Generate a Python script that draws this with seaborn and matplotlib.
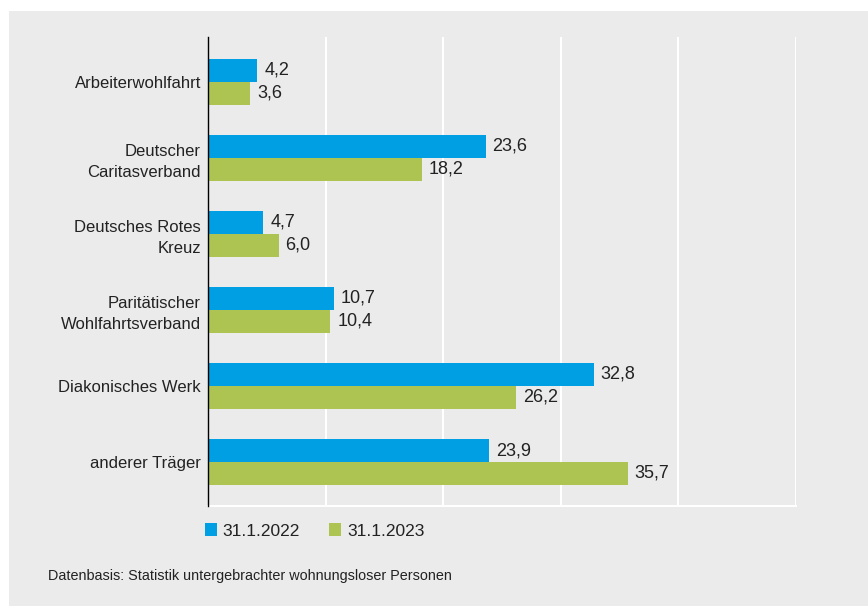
import pandas as pd
import numpy as np
import matplotlib.pyplot as plt
import matplotlib.patches as mpatches
import seaborn as sns

# data
categories = ["Arbeiterwohlfahrt", "Deutscher\nCaritasverband", "Deutsches Rotes\nKreuz",
              "Paritätischer\nWohlfahrtsverband", "Diakonisches Werk", "anderer Träger"]
values_2022 = [4.2, 23.6, 4.7, 10.7, 32.8, 23.9]
values_2023 = [3.6, 18.2, 6.0, 10.4, 26.2, 35.7]
series = ["31.1.2022", "31.1.2023"]

BG = "#ebebeb"
COLORS = ["#009fe3", "#adc452"]
TXT = "#222222"

df = pd.DataFrame({
    "Träger": categories * 2,
    "Wert": values_2022 + values_2023,
    "Stichtag": [series[0]] * len(categories) + [series[1]] * len(categories),
})

sns.set_style("white")
plt.rcParams["font.family"] = ["Liberation Sans", "DejaVu Sans"]

fig = plt.figure(figsize=(8.68, 6.06), dpi=100, facecolor="white")
fig.patches.append(mpatches.Rectangle((9 / 868, 0), 1, 1 - 11 / 606, transform=fig.transFigure,
                                      facecolor=BG, edgecolor="none", zorder=-10))
ax = fig.add_axes([208 / 868, 1 - 506 / 606, (796 - 208) / 868, (506 - 37) / 606])
ax.set_facecolor(BG)

sns.barplot(data=df, y="Träger", x="Wert", hue="Stichtag", palette=COLORS,
            orient="h", width=0.6, saturation=1, linewidth=0, ax=ax, legend=False)

ax.set_xlim(0, 50)
ax.set_ylim(5.58, -0.59)
ax.set_xticks([10, 20, 30, 40, 50])
ax.set_xticklabels([])
ax.grid(axis="x", color="white", linewidth=1.5)
ax.set_axisbelow(True)
for s in ["top", "right"]:
    ax.spines[s].set_visible(False)
ax.spines["bottom"].set_color("white")
ax.spines["bottom"].set_linewidth(1.5)
ax.spines["left"].set_color("black")
ax.spines["left"].set_linewidth(1.0)
ax.spines["left"].set_zorder(5)
ax.tick_params(axis="both", length=0)
ax.tick_params(axis="y", labelsize=12, labelcolor=TXT, pad=5)
for lab in ax.get_yticklabels():
    lab.set_horizontalalignment("right")
    lab.set_multialignment("right")
    lab.set_linespacing(1.45)
ax.set_xlabel("")
ax.set_ylabel("")

for cont in ax.containers:
    labels = [f"{b.get_width():.1f}".replace(".", ",") for b in cont]
    ax.bar_label(cont, labels=labels, padding=5, fontsize=13, color=TXT)

handles = [mpatches.Patch(facecolor=c, edgecolor="none") for c in COLORS]
fig.legend(handles, series, loc="center left", bbox_to_anchor=(189 / 868, 1 - 531 / 606),
           ncol=2, frameon=False, fontsize=12.5, handlelength=0.7, handleheight=0.7,
           handletextpad=0.32, columnspacing=1.7, labelcolor=TXT)

fig.text(48 / 868, 1 - 576 / 606, "Datenbasis: Statistik untergebrachter wohnungsloser Personen",
         fontsize=10.4, color=TXT, va="center", ha="left")

fig.savefig("out.png", dpi=100, facecolor="white")
